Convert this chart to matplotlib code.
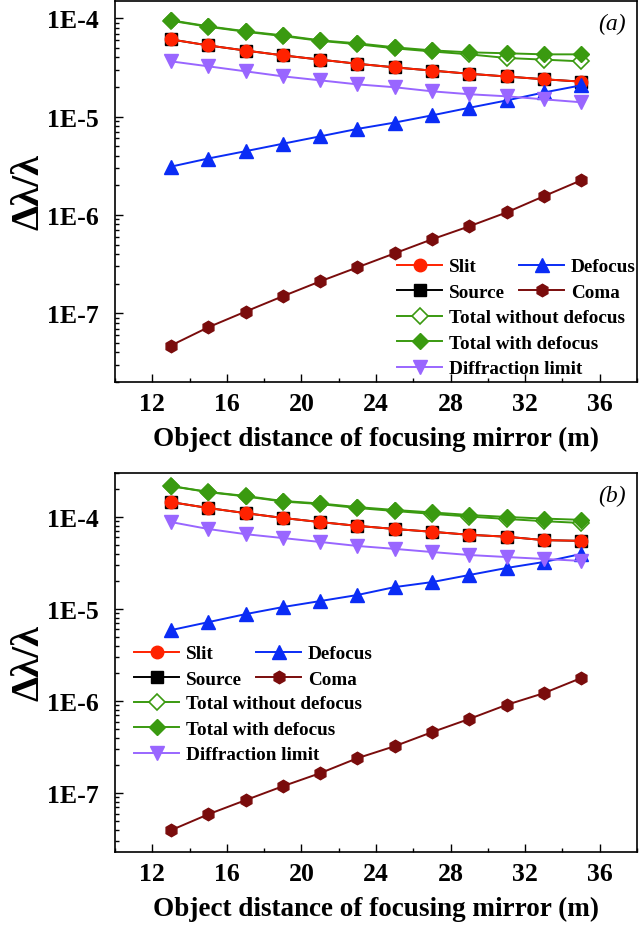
import numpy as np
import matplotlib
matplotlib.use('Agg')
import matplotlib.pyplot as plt
from matplotlib.ticker import FixedLocator, FuncFormatter, LogLocator, MultipleLocator

plt.rcParams['font.family'] = ['Liberation Serif', 'DejaVu Serif']
plt.rcParams['font.weight'] = 'bold'
plt.rcParams['axes.labelweight'] = 'bold'

# object distance of focusing mirror (m)
distance = [13, 15, 17, 19, 21, 23, 25, 27, 29, 31, 33, 35]

# panel (a)
slit_a = [6.1e-5, 5.3e-5, 4.7e-5, 4.2e-5, 3.8e-5, 3.45e-5, 3.17e-5, 2.94e-5, 2.73e-5, 2.56e-5, 2.4e-5, 2.27e-5]
source_a = [6.1e-5, 5.3e-5, 4.7e-5, 4.2e-5, 3.8e-5, 3.45e-5, 3.17e-5, 2.94e-5, 2.73e-5, 2.56e-5, 2.4e-5, 2.27e-5]
defocus_a = [3.1e-6, 3.75e-6, 4.45e-6, 5.3e-6, 6.3e-6, 7.5e-6, 8.7e-6, 1.03e-5, 1.23e-5, 1.46e-5, 1.76e-5, 2.08e-5]
coma_a = [4.7e-8, 7.2e-8, 1.04e-7, 1.49e-7, 2.11e-7, 2.93e-7, 4.07e-7, 5.65e-7, 7.66e-7, 1.06e-6, 1.55e-6, 2.25e-6]
total_wo_a = [9.45e-5, 8.2e-5, 7.3e-5, 6.6e-5, 5.9e-5, 5.45e-5, 4.95e-5, 4.6e-5, 4.3e-5, 3.95e-5, 3.8e-5, 3.65e-5]
total_w_a = [9.55e-5, 8.3e-5, 7.38e-5, 6.71e-5, 5.97e-5, 5.57e-5, 5.07e-5, 4.72e-5, 4.51e-5, 4.41e-5, 4.3e-5, 4.3e-5]
diffraction_a = [3.65e-5, 3.25e-5, 2.89e-5, 2.57e-5, 2.34e-5, 2.13e-5, 1.99e-5, 1.81e-5, 1.69e-5, 1.61e-5, 1.5e-5, 1.4e-5]

# panel (b)
slit_b = [1.45e-4, 1.25e-4, 1.1e-4, 9.75e-5, 8.8e-5, 8.0e-5, 7.4e-5, 6.9e-5, 6.4e-5, 6.1e-5, 5.6e-5, 5.5e-5]
source_b = [1.45e-4, 1.25e-4, 1.1e-4, 9.75e-5, 8.8e-5, 8.0e-5, 7.4e-5, 6.9e-5, 6.4e-5, 6.1e-5, 5.6e-5, 5.5e-5]
defocus_b = [5.9e-6, 7.2e-6, 8.8e-6, 1.05e-5, 1.22e-5, 1.42e-5, 1.73e-5, 1.96e-5, 2.34e-5, 2.79e-5, 3.24e-5, 3.96e-5]
coma_b = [3.96e-8, 5.9e-8, 8.4e-8, 1.19e-7, 1.65e-7, 2.4e-7, 3.24e-7, 4.6e-7, 6.4e-7, 9.1e-7, 1.22e-6, 1.78e-6]
total_wo_b = [2.16e-4, 1.86e-4, 1.67e-4, 1.47e-4, 1.38e-4, 1.25e-4, 1.16e-4, 1.08e-4, 1.01e-4, 9.5e-5, 9.0e-5, 8.6e-5]
total_w_b = [2.17e-4, 1.87e-4, 1.69e-4, 1.49e-4, 1.4e-4, 1.28e-4, 1.19e-4, 1.12e-4, 1.05e-4, 1.0e-4, 9.6e-5, 9.3e-5]
diffraction_b = [8.8e-5, 7.4e-5, 6.5e-5, 5.9e-5, 5.35e-5, 4.84e-5, 4.5e-5, 4.16e-5, 3.86e-5, 3.67e-5, 3.5e-5, 3.33e-5]

panels = [
    dict(slit=slit_a, source=source_a, defocus=defocus_a, coma=coma_a,
         wo=total_wo_a, w=total_w_a, diff=diffraction_a, ylim=(2.0e-8, 1.5e-4), tag='(a)'),
    dict(slit=slit_b, source=source_b, defocus=defocus_b, coma=coma_b,
         wo=total_wo_b, w=total_w_b, diff=diffraction_b, ylim=(2.3e-8, 3.0e-4), tag='(b)'),
]

W, H = 640, 929
fig = plt.figure(figsize=(W / 100, H / 100), dpi=100)

# axes boxes in pixels: left, top, right, bottom
boxes = [(115, 2, 637, 383), (115, 474, 637, 853)]
# legend anchors (pixels): two-column part and one-column part
leg_pos = [((397, 259), (397, 310)), ((134, 646), (134, 696))]

red = '#ff2200'
blue = '#0a2cf5'
coma_c = '#7a0c0c'
green = '#3a9a10'
purple = '#9966ff'

for p, box, lp in zip(panels, boxes, leg_pos):
    l, t, r, b = box
    ax = fig.add_axes([l / W, 1 - b / H, (r - l) / W, (b - t) / H])
    ax.set_yscale('log')

    h_src, = ax.plot(distance, p['source'], color='black', marker='s', ms=8.5, lw=1.4, zorder=2)
    h_slit, = ax.plot(distance, p['slit'], color=red, marker='o', ms=9, lw=1.4, zorder=3)
    h_def, = ax.plot(distance, p['defocus'], color=blue, marker='^', ms=10, lw=1.4, zorder=3)
    h_coma, = ax.plot(distance, p['coma'], color=coma_c, marker='h', ms=9, lw=1.4, zorder=3)
    h_wo, = ax.plot(distance, p['wo'], color=green, marker='D', ms=8, mfc='white', mec=green,
                    mew=1.2, lw=1.4, zorder=3)
    h_w, = ax.plot(distance, p['w'], color=green, marker='D', ms=8.5, lw=1.4, zorder=4)
    h_diff, = ax.plot(distance, p['diff'], color=purple, marker='v', ms=10, lw=1.4, zorder=3)

    ax.set_xlim(10, 38)
    ax.set_ylim(*p['ylim'])
    ax.xaxis.set_major_locator(MultipleLocator(4))
    ax.xaxis.set_minor_locator(MultipleLocator(2))
    ax.yaxis.set_major_locator(FixedLocator([1e-7, 1e-6, 1e-5, 1e-4]))
    ax.yaxis.set_minor_locator(LogLocator(base=10, subs=np.arange(2, 10)))
    ax.yaxis.set_major_formatter(FuncFormatter(lambda v, pos: '1E%d' % int(round(np.log10(v)))))
    ax.tick_params(which='both', direction='in', labelsize=18.5, width=1.0)
    ax.tick_params(which='major', length=6)
    ax.tick_params(which='minor', length=3)
    ax.tick_params(axis='x', pad=7)
    ax.tick_params(axis='y', pad=12)
    for s in ax.spines.values():
        s.set_linewidth(1.2)

    ax.set_xlabel('Object distance of focusing mirror (m)', fontsize=19.5, fontweight='bold')
    ax.xaxis.set_label_coords(0.5, -0.115)
    ax.set_ylabel('Δλ/λ', fontsize=29, fontweight='bold')
    ax.yaxis.set_label_coords(-0.13, 0.5)

    ax.text((612 - l) / (r - l), (b - (t + 22)) / (b - t),
            p['tag'], transform=ax.transAxes, fontsize=17, style='italic', weight='normal',
            ha='center', va='center')

    common = dict(frameon=False, fontsize=13.8, handlelength=2.35, handletextpad=0.35,
                  borderpad=0, borderaxespad=0, labelspacing=0.42, loc='upper left',
                  bbox_transform=fig.transFigure)
    (x1, y1), (x2, y2) = lp
    leg1 = ax.legend([h_slit, h_src, h_def, h_coma], ['Slit', 'Source', 'Defocus', 'Coma'],
                     ncol=2, columnspacing=0.75, bbox_to_anchor=(x1 / W, 1 - y1 / H), **common)
    ax.add_artist(leg1)
    ax.legend([h_wo, h_w, h_diff], ['Total without defocus', 'Total with defocus', 'Diffraction limit'],
              bbox_to_anchor=(x2 / W, 1 - y2 / H), **common)

fig.savefig('out.png', dpi=100)
